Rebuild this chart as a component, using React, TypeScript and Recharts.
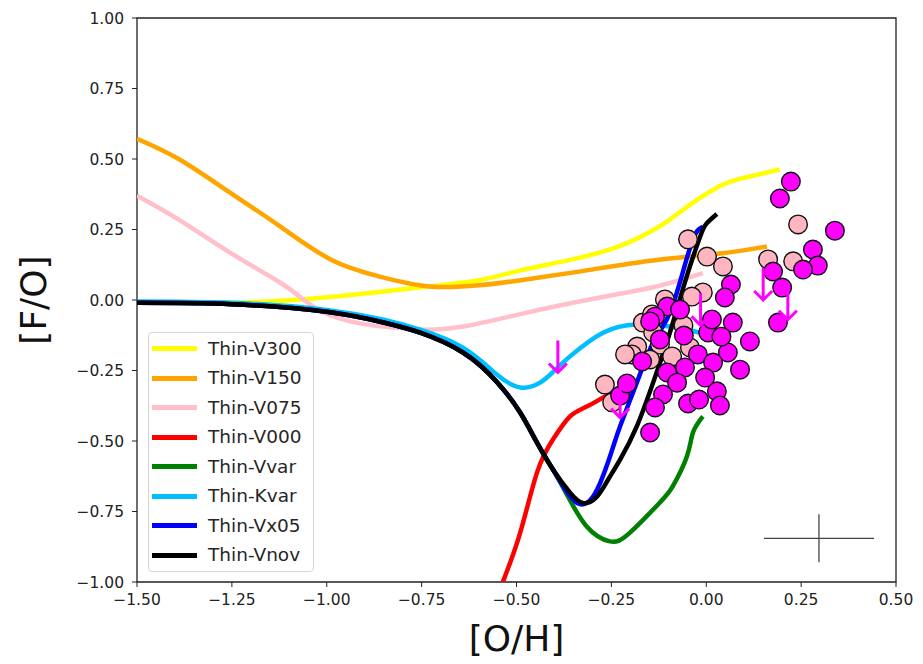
import React from "react";
import {
  ComposedChart,
  Line,
  Scatter,
  XAxis,
  YAxis,
  Legend,
  Label,
  ReferenceArea,
  ReferenceLine,
} from "recharts";

type Pt = [number, number];

const xTicks = [-1.5, -1.25, -1.0, -0.75, -0.5, -0.25, 0, 0.25, 0.5];
const yTicks = [-1, -0.75, -0.5, -0.25, 0, 0.25, 0.5, 0.75, 1];

// chemical evolution tracks, [O/H] vs [F/O]
const thinV300: Pt[] = [
  [-1.5, -0.01], [-1.3, -0.01], [-1.15, -0.005], [-1.0, 0.01], [-0.85, 0.03],
  [-0.75, 0.045], [-0.6, 0.07], [-0.49, 0.105], [-0.35, 0.145], [-0.23, 0.19],
  [-0.15, 0.24], [-0.096, 0.285], [-0.03, 0.35], [0.036, 0.404], [0.081, 0.427],
  [0.194, 0.463],
];
const thinV150: Pt[] = [
  [-1.5, 0.572], [-1.39, 0.5], [-1.255, 0.381], [-1.123, 0.261], [-0.99, 0.144],
  [-0.86, 0.083], [-0.73, 0.048], [-0.6, 0.052], [-0.48, 0.072], [-0.315, 0.105],
  [-0.14, 0.14], [0.036, 0.165], [0.16, 0.19],
];
const thinV075: Pt[] = [
  [-1.5, 0.37], [-1.39, 0.285], [-1.255, 0.168], [-1.123, 0.062], [-1.06, 0.0],
  [-0.99, -0.055], [-0.88, -0.09], [-0.75, -0.105], [-0.64, -0.094], [-0.49, -0.05],
  [-0.315, 0.0], [-0.14, 0.045], [-0.009, 0.095],
];
const thinV000: Pt[] = [
  [-0.536, -1.0], [-0.49, -0.824], [-0.446, -0.612], [-0.404, -0.495],
  [-0.359, -0.413], [-0.315, -0.378], [-0.235, -0.317],
];
const thinVvar: Pt[] = [
  [-1.5, -0.01], [-1.25, -0.015], [-1.0, -0.042], [-0.85, -0.08], [-0.754, -0.116],
  [-0.64, -0.187], [-0.55, -0.293], [-0.49, -0.4], [-0.446, -0.506], [-0.404, -0.601],
  [-0.367, -0.69], [-0.315, -0.803], [-0.254, -0.856], [-0.201, -0.825],
  [-0.122, -0.718], [-0.088, -0.66], [-0.051, -0.555], [-0.035, -0.47], [-0.009, -0.413],
];
const thinKvar: Pt[] = [
  [-1.5, -0.005], [-1.25, -0.01], [-1.0, -0.035], [-0.85, -0.07], [-0.754, -0.105],
  [-0.64, -0.17], [-0.551, -0.265], [-0.49, -0.31], [-0.438, -0.293], [-0.4, -0.25],
  [-0.359, -0.2], [-0.272, -0.116], [-0.183, -0.087], [-0.096, -0.094], [-0.016, -0.116],
];
const thinVx05: Pt[] = [
  [-1.5, -0.01], [-1.25, -0.015], [-1.0, -0.042], [-0.85, -0.08], [-0.754, -0.116],
  [-0.64, -0.187], [-0.55, -0.293], [-0.49, -0.4], [-0.446, -0.506], [-0.404, -0.601],
  [-0.37, -0.675], [-0.34, -0.72], [-0.31, -0.715], [-0.28, -0.65], [-0.25, -0.54],
  [-0.227, -0.448], [-0.183, -0.293], [-0.14, -0.151], [-0.104, -0.069], [-0.07, 0.06],
  [-0.035, 0.215], [-0.009, 0.26],
];
const thinVnov: Pt[] = [
  [-1.5, -0.01], [-1.25, -0.015], [-1.0, -0.042], [-0.85, -0.08], [-0.754, -0.116],
  [-0.64, -0.187], [-0.55, -0.293], [-0.49, -0.4], [-0.446, -0.506], [-0.404, -0.601],
  [-0.359, -0.683], [-0.325, -0.72], [-0.29, -0.7], [-0.26, -0.64], [-0.227, -0.566],
  [-0.183, -0.448], [-0.14, -0.293], [-0.096, -0.116], [-0.05, 0.09], [-0.016, 0.225],
  [0.0, 0.27], [0.028, 0.305],
];

// observed stars
const starsPink: Pt[] = [
  [0.242, 0.268], [0.163, 0.144], [0.229, 0.137], [-0.048, 0.215], [0.002, 0.154],
  [0.044, 0.119], [-0.009, 0.027], [-0.038, 0.012], [-0.109, 0.002], [-0.167, -0.08],
  [-0.14, -0.115], [-0.182, -0.165], [-0.196, -0.193], [-0.267, -0.3], [-0.248, -0.363],
  [-0.122, -0.158], [-0.043, -0.168], [-0.148, -0.211], [-0.143, -0.051], [-0.214, -0.193],
  [-0.09, -0.2], [-0.06, -0.09],
];
const starsMagenta: Pt[] = [
  [0.223, 0.42], [0.194, 0.36], [0.339, 0.246], [0.281, 0.179], [0.294, 0.122],
  [0.255, 0.108], [0.176, 0.101], [0.2, 0.044], [0.189, -0.08], [0.065, 0.055],
  [0.049, 0.009], [0.07, -0.08], [0.005, -0.115], [0.115, -0.147], [0.057, -0.186],
  [-0.022, -0.193], [0.018, -0.222], [-0.056, -0.239], [-0.103, -0.257], [-0.077, -0.293],
  [-0.114, -0.335], [-0.135, -0.381], [-0.048, -0.367], [-0.019, -0.353], [0.028, -0.324],
  [0.036, -0.374], [-0.148, -0.47], [-0.169, -0.218], [-0.227, -0.339], [-0.209, -0.296],
  [-0.103, -0.023], [-0.069, -0.034], [-0.135, -0.059], [-0.148, -0.076], [-0.059, -0.126],
  [-0.003, -0.275], [0.089, -0.247], [0.015, -0.069], [-0.122, -0.14], [0.04, -0.13],
];
// upper limits (arrow tips)
const upperLimits: Pt[] = [
  [-0.391, -0.257], [0.15, 0.0], [0.215, -0.07], [-0.015, -0.09], [-0.227, -0.417],
];
// typical error bar
const errCenter: Pt = [0.297, -0.845];
const errX = 0.145;
const errY = 0.085;

const toRows = (pts: Pt[]) => pts.map(([x, y]) => ({ x, y }));

const tracks = [
  { name: "Thin-V300", color: "#ffff00", pts: thinV300 },
  { name: "Thin-V150", color: "#ffa500", pts: thinV150 },
  { name: "Thin-V075", color: "#ffc0cb", pts: thinV075 },
  { name: "Thin-V000", color: "#ff0000", pts: thinV000 },
  { name: "Thin-Vvar", color: "#008000", pts: thinVvar },
  { name: "Thin-Kvar", color: "#00bfff", pts: thinKvar },
  { name: "Thin-Vx05", color: "#0000ff", pts: thinVx05 },
  { name: "Thin-Vnov", color: "#000000", pts: thinVnov },
];

const fmt = (v: number) => (v < 0 ? "\u2212" : "") + Math.abs(v).toFixed(2);

const track = (t: (typeof tracks)[number]) => (
  <Line
    key={t.name}
    name={t.name}
    data={toRows(t.pts)}
    dataKey="y"
    type="natural"
    stroke={t.color}
    strokeWidth={4.5}
    dot={false}
    activeDot={false}
    isAnimationActive={false}
  />
);

const star = (fill: string) => (p: any) => (
  <circle cx={p.cx} cy={p.cy} r={9.3} fill={fill} stroke="#111" strokeWidth={1.4} />
);

const arrow = (p: any) => (
  <path
    d={`M${p.cx},${p.cy - 32} L${p.cx},${p.cy} M${p.cx - 9},${p.cy - 9} L${p.cx},${p.cy} L${p.cx + 9},${p.cy - 9}`}
    stroke="#ff00ff"
    strokeWidth={3}
    fill="none"
  />
);

const LegendBox = () => (
  <div
    style={{
      width: 166,
      boxSizing: "border-box",
      border: "1px solid #d6d6d6",
      borderRadius: 4,
      background: "rgba(255,255,255,0.85)",
      padding: "1px 4px 1px 3px",
    }}
  >
    {tracks.map((t) => (
      <div key={t.name} style={{ display: "flex", alignItems: "center", height: 29.5 }}>
        <span style={{ display: "inline-block", width: 45, height: 5, background: t.color, marginRight: 11 }} />
        <span style={{ fontSize: 18.5, color: "#262626", lineHeight: 1 }}>{t.name}</span>
      </div>
    ))}
  </div>
);

export default function App() {
  const early = tracks.slice(0, 6);
  const late = tracks.slice(6);
  return (
    <div style={{ position: "absolute", left: 0, top: 0, fontFamily: "'DejaVu Sans', sans-serif" }}>
      <ComposedChart width={923} height={664} margin={{ top: 18, right: 27, bottom: 0, left: 0 }}>
        <XAxis
          type="number"
          dataKey="x"
          domain={[-1.5, 0.5]}
          ticks={xTicks}
          interval={0}
          allowDataOverflow
          height={82}
          axisLine={false}
          tickLine={{ stroke: "#222" }}
          tickSize={5}
          tickMargin={7}
          tick={{ fontSize: 15.5, fill: "#222" }}
          tickFormatter={fmt}
        >
          <Label
            content={({ viewBox }: any) => (
              <text x={viewBox.x + viewBox.width / 2} y={651} textAnchor="middle" fontSize={36} fill="#111">
                [O/H]
              </text>
            )}
          />
        </XAxis>
        <YAxis
          type="number"
          dataKey="y"
          domain={[-1, 1]}
          ticks={yTicks}
          interval={0}
          allowDataOverflow
          width={137}
          axisLine={false}
          tickLine={{ stroke: "#222" }}
          tickSize={5}
          tickMargin={8}
          tick={{ fontSize: 15.5, fill: "#222" }}
          tickFormatter={fmt}
        >
          <Label
            content={({ viewBox }: any) => {
              const cy = viewBox.y + viewBox.height / 2;
              return (
                <text x={46} y={cy} transform={`rotate(-90 46 ${cy})`} textAnchor="middle" fontSize={36} fill="#111">
                  [F/O]
                </text>
              );
            }}
          />
        </YAxis>
        <Scatter data={toRows(starsPink)} dataKey="y" shape={star("#ffb6c1")} isAnimationActive={false} legendType="none" />
        {early.map(track)}
        <Scatter data={toRows(starsMagenta)} dataKey="y" shape={star("#ff00ff")} isAnimationActive={false} legendType="none" />
        <Scatter data={toRows(upperLimits)} dataKey="y" shape={arrow} isAnimationActive={false} legendType="none" />
        {late.map(track)}
        <ReferenceLine
          segment={[{ x: errCenter[0] - errX, y: errCenter[1] }, { x: errCenter[0] + errX, y: errCenter[1] }]}
          stroke="#444"
          strokeWidth={1.3}
        />
        <ReferenceLine
          segment={[{ x: errCenter[0], y: errCenter[1] - errY }, { x: errCenter[0], y: errCenter[1] + errY }]}
          stroke="#444"
          strokeWidth={1.3}
        />
        <ReferenceArea x1={-1.5} x2={0.5} y1={-1} y2={1} fill="none" stroke="#222" strokeWidth={1.3} />
        <Legend
          layout="vertical"
          align="center"
          verticalAlign="middle"
          wrapperStyle={{ left: 148, top: 332, width: 166 }}
          content={() => <LegendBox />}
        />
      </ComposedChart>
    </div>
  );
}
